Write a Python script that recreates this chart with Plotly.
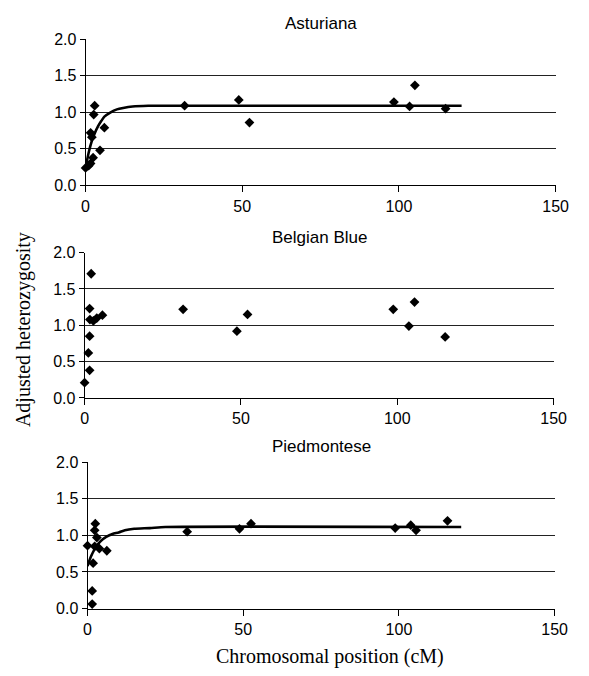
import plotly.graph_objects as go

W, H = 589, 676

# ---- data ----
breeds = ["Asturiana", "Belgian Blue", "Piedmontese"]

ast_x = [0, 1.0, 1.6, 1.6, 2.0, 2.4, 2.6, 2.9, 4.6, 6.0, 31.6, 48.9, 52.3, 98.4, 103.4, 105.1, 114.9]
ast_y = [0.24, 0.27, 0.30, 0.72, 0.66, 0.38, 0.97, 1.09, 0.48, 0.79, 1.09, 1.17, 0.86, 1.14, 1.08, 1.37, 1.05]

bb_x = [0, 1.2, 1.6, 1.6, 1.6, 1.7, 2.1, 2.8, 3.9, 5.7, 31.5, 48.7, 52.1, 98.7, 103.7, 105.5, 115.3]
bb_y = [0.21, 0.62, 0.38, 0.85, 1.23, 1.08, 1.71, 1.06, 1.10, 1.14, 1.22, 0.92, 1.15, 1.22, 0.99, 1.32, 0.84]

pm_x = [0, 1.5, 1.5, 1.8, 2.3, 2.3, 2.5, 3.0, 3.8, 6.2, 32.0, 48.8, 52.5, 98.8, 103.8, 105.5, 115.6]
pm_y = [0.86, 0.06, 0.24, 0.62, 0.85, 1.07, 1.16, 0.97, 0.82, 0.79, 1.05, 1.09, 1.16, 1.10, 1.14, 1.07, 1.20]

ast_fit_x = [0, 1, 2, 3, 4, 5, 6, 8, 10, 12, 15, 20, 120]
ast_fit_y = [0.24, 0.45, 0.61, 0.72, 0.81, 0.88, 0.94, 1.00, 1.04, 1.06, 1.08, 1.09, 1.09]

pm_fit_x = [0, 1, 2, 3, 4, 5, 6, 8, 10, 12, 15, 20, 25, 120]
pm_fit_y = [0.58, 0.70, 0.79, 0.86, 0.91, 0.95, 0.98, 1.02, 1.04, 1.07, 1.09, 1.10, 1.115, 1.115]

x_ticks = [0, 50, 100, 150]
y_ticks = [0.0, 0.5, 1.0, 1.5, 2.0]
y_tick_labels = ["0.0", "0.5", "1.0", "1.5", "2.0"]

# ---- layout geometry (pixels) ----
panels = [
    dict(x0=84, x1=568, top=32, bottom=182),
    dict(x0=83, x1=566, top=251, bottom=400),
    dict(x0=86, x1=567, top=466, bottom=616),
]

def px_x(p):
    return p / W

def px_y(p):
    return 1 - p / H

SANS = "Liberation Sans, Arial, sans-serif"
SERIF = "Liberation Serif, Times New Roman, serif"

fig = go.Figure()

scatter_sets = [(ast_x, ast_y), (bb_x, bb_y), (pm_x, pm_y)]
fits = [(ast_fit_x, ast_fit_y), None, (pm_fit_x, pm_fit_y)]

for i, ((sx, sy), fit) in enumerate(zip(scatter_sets, fits)):
    suffix = "" if i == 0 else str(i + 1)
    if fit is not None:
        fig.add_trace(go.Scatter(
            x=fit[0], y=fit[1], mode="lines",
            line=dict(color="black", width=2.6, shape="spline", smoothing=0.6),
            xaxis="x" + suffix, yaxis="y" + suffix, showlegend=False,
            cliponaxis=False, hoverinfo="skip"))
    fig.add_trace(go.Scatter(
        x=sx, y=sy, mode="markers",
        marker=dict(symbol="diamond", size=7.5, color="black"),
        xaxis="x" + suffix, yaxis="y" + suffix, showlegend=False,
        cliponaxis=False))

layout = dict(
    width=W, height=H,
    margin=dict(l=0, r=0, t=0, b=0),
    paper_bgcolor="white", plot_bgcolor="white",
    font=dict(family=SANS, size=16, color="black"),
    annotations=[],
)

for i, p in enumerate(panels):
    suffix = "" if i == 0 else str(i + 1)
    layout["xaxis" + suffix] = dict(
        domain=[px_x(p["x0"]), px_x(p["x1"])],
        anchor="y" + suffix,
        range=[0, 150], tickvals=x_ticks,
        ticks="outside", ticklen=6, tickcolor="black", tickwidth=1,
        showline=True, linecolor="black", linewidth=1,
        showgrid=False, zeroline=False,
        tickfont=dict(family=SANS, size=16, color="black"),
        fixedrange=True,
    )
    layout["yaxis" + suffix] = dict(
        domain=[px_y(p["bottom"]), px_y(p["top"])],
        anchor="x" + suffix,
        range=[0, 2.0], tickvals=y_ticks, ticktext=y_tick_labels,
        ticks="outside", ticklen=5, tickcolor="black", tickwidth=1,
        showline=True, linecolor="black", linewidth=1,
        showgrid=True, gridcolor="#222222", gridwidth=1,
        zeroline=False,
        tickfont=dict(family=SANS, size=16, color="black"),
        fixedrange=True,
    )
    layout["annotations"].append(dict(
        text=breeds[i], xref="paper", yref="paper",
        x=px_x((p["x0"] + p["x1"]) / 2), y=px_y(p["top"] - 4),
        xanchor="center", yanchor="bottom", showarrow=False,
        font=dict(family=SANS, size=17, color="black"),
    ))

layout["annotations"].append(dict(
    text="Adjusted heterozygosity", xref="paper", yref="paper",
    x=px_x(20), y=px_y(330), xanchor="center", yanchor="middle",
    textangle=-90, showarrow=False,
    font=dict(family=SERIF, size=20, color="black"),
))
layout["annotations"].append(dict(
    text="Chromosomal position (cM)", xref="paper", yref="paper",
    x=px_x(336), y=px_y(665), xanchor="center", yanchor="middle",
    showarrow=False,
    font=dict(family=SERIF, size=20, color="black"),
))

fig.update_layout(**layout)
fig.write_html(
    "out.html",
    config={"displayModeBar": False, "staticPlot": True},
    post_script="document.body.style.margin='0px';document.body.style.overflow='hidden';",
)
